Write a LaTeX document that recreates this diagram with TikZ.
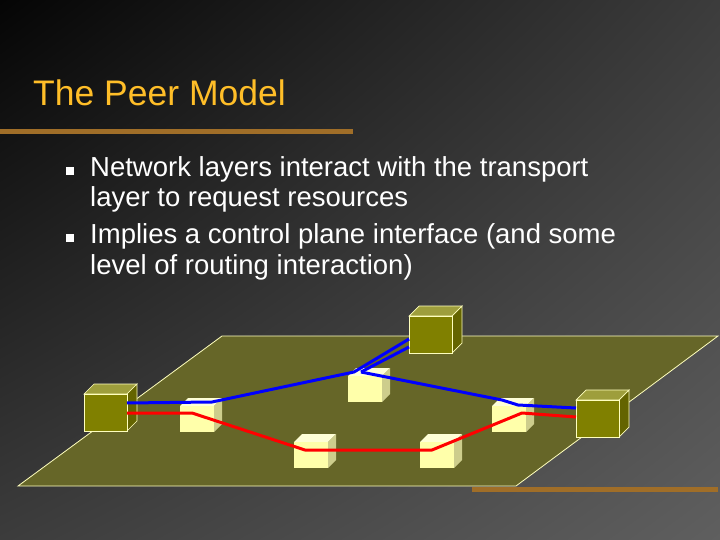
\documentclass[tikz,border=0pt]{standalone}
\usepackage{fontspec}
\setmainfont{Liberation Sans}
\usetikzlibrary{shadings}
\definecolor{bgA}{RGB}{5,5,5}
\definecolor{bgB}{RGB}{60,60,60}
\definecolor{bgC}{RGB}{95,95,95}
\definecolor{ttl}{RGB}{255,190,40}
\definecolor{barc}{RGB}{160,110,40}
\definecolor{plane}{RGB}{102,102,40}
\definecolor{edge}{RGB}{255,255,190}
\definecolor{btop}{RGB}{158,158,60}
\definecolor{bside}{RGB}{100,100,0}
\definecolor{bfront}{RGB}{128,128,0}
\definecolor{stop}{RGB}{255,255,215}
\definecolor{sside}{RGB}{205,205,140}
\definecolor{sfront}{RGB}{255,255,170}
\begin{document}
\begin{tikzpicture}[x=1pt,y=-1pt,
  txt/.style={anchor=west,text=white,font=\fontsize{27.5}{33}\selectfont,inner sep=0pt},
  bul/.style={fill=white,minimum size=8pt,inner sep=0pt}]
\useasboundingbox (0,0) rectangle (720,540);
\shade[upper left=bgA,upper right=bgB,lower left=bgB,lower right=bgC] (0,0) rectangle (720,540);
\node[anchor=west,text=ttl,font=\fontsize{35.5}{40}\selectfont,inner sep=0pt] (title) at (33,93) {The Peer Model};
\fill[barc] (0,129) rectangle (353,134);
\fill[barc] (472,487) rectangle (718,492);
\node[bul] (b1) at (70,171) {};
\node[bul] (b2) at (70,238) {};
\node[txt] (t1) at (90,169) {Network layers interact with the transport};
\node[txt] (t2) at (90,199) {layer to request resources};
\node[txt] (t3) at (90,236) {Implies a control plane interface (and some};
\node[txt] (t4) at (90,267) {level of routing interaction)};
% plane
\draw[fill=plane,draw=edge,line width=0.8pt]
  (222,336) -- (718,336) -- (516,486) -- (18,486) -- cycle;
% cubes
\newcommand{\bigcube}[3]{%
  \coordinate (#1) at (#2,#3);
  \draw[draw=edge,line width=0.7pt,fill=btop] (#2,#3) -- ++(10,-10) -- ++(43,0) -- ++(-10,10) -- cycle;
  \draw[draw=edge,line width=0.7pt,fill=bside] (#2+43,#3) -- ++(10,-10) -- ++(0,37) -- ++(-10,10) -- cycle;
  \draw[draw=edge,line width=0.7pt,fill=bfront] (#2,#3) rectangle ++(43,37);}
\newcommand{\smallcube}[3]{%
  \coordinate (#1) at (#2,#3);
  \fill[stop] (#2,#3) -- ++(8,-8) -- ++(34,0) -- ++(-8,8) -- cycle;
  \fill[sside] (#2+34,#3) -- ++(8,-8) -- ++(0,26) -- ++(-8,8) -- cycle;
  \fill[sfront] (#2,#3) rectangle ++(34,26);}
\smallcube{s1}{180}{406}
\smallcube{s2}{348}{376}
\smallcube{s3}{294}{442}
\smallcube{s4}{420}{442}
\smallcube{s5}{492}{406}
\bigcube{L}{84}{394}
\bigcube{T}{409}{316}
\bigcube{R}{576}{400}
% paths
\begin{scope}[line width=3pt,line join=round]
\draw[blue] ([xshift=43pt,yshift=-9pt]L) -- ([xshift=32pt,yshift=4pt]s1) -- ([xshift=6pt,yshift=4pt]s2) -- ([yshift=-23pt]T);
\draw[blue] ([xshift=13pt,yshift=4pt]s2) -- ([yshift=-31pt]T);
\draw[blue] ([xshift=13pt,yshift=4pt]s2) -- ([xshift=10pt,yshift=6pt]s5) -- ([xshift=26pt,yshift=1pt]s5) -- ([yshift=-8pt]R);
\draw[red] ([xshift=43pt,yshift=-19pt]L) -- ([xshift=12pt,yshift=-7pt]s1) -- ([xshift=11pt,yshift=-8pt]s3) -- ([xshift=12pt,yshift=-8pt]s4) -- ([xshift=30pt,yshift=-7pt]s5) -- ([yshift=-17pt]R);
\end{scope}
\end{tikzpicture}
\end{document}
